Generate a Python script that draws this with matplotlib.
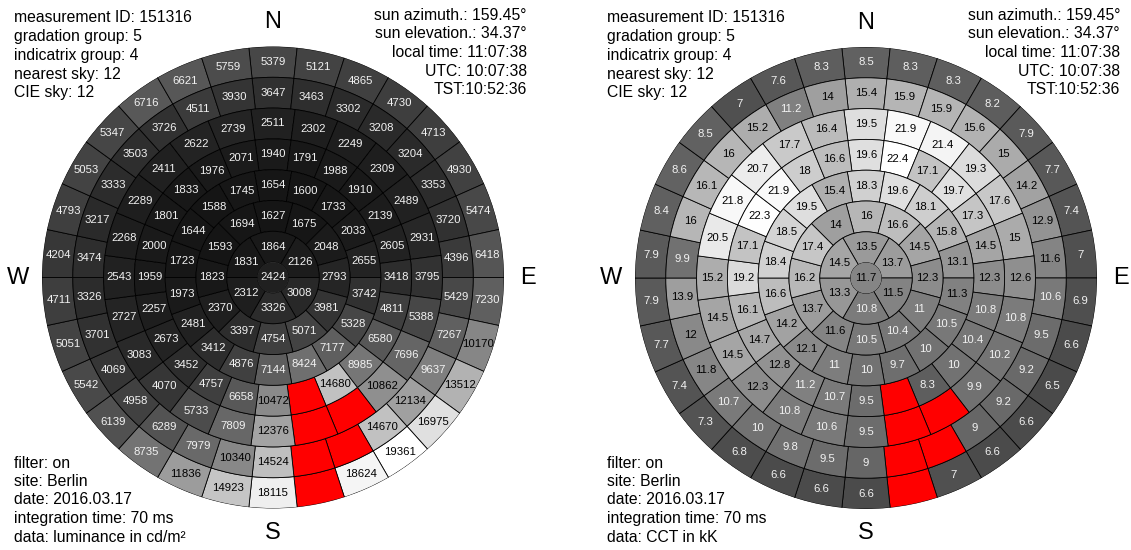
import numpy as np
import matplotlib.pyplot as plt

plt.rcParams['font.family'] = ['Liberation Sans', 'DejaVu Sans']

# Tregenza sky scan, 145 patches: bands listed from the horizon (alt 0-12) inwards,
# patch values clockwise from north. None = masked patch around the sun (drawn red)
RED = None

lum_b1 = [5379, 5121, 4865, 4730, 4713, 4930, 5474, 6418, 7230, 10170,
          13512, 16975, 19361, 18624, RED, 18115, 14923, 11836, 8735, 6139,
          5542, 5051, 4711, 4204, 4793, 5053, 5347, 6716, 6621, 5759]
lum_b2 = [3647, 3463, 3302, 3208, 3204, 3353, 3720, 4396, 5429, 7267,
          9637, 12134, 14670, RED, RED, 14524, 10340, 7979, 6289, 4958,
          4069, 3701, 3326, 3474, 3217, 3333, 3503, 3726, 4511, 3930]
lum_b3 = [2511, 2302, 2249, 2309, 2489, 2931, 3795, 5388, 7696, 10862, RED, RED,
          12376, 7809, 5733, 4070, 3083, 2727, 2543, 2268, 2289, 2411, 2622, 2739]
lum_b4 = [1940, 1791, 1988, 1910, 2139, 2605, 3418, 4811, 6580, 8985, 14680, RED,
          10472, 6658, 4757, 3452, 2673, 2257, 1959, 2000, 1801, 1833, 1976, 2071]
lum_b5 = [1654, 1600, 1733, 2033, 2655, 3742, 5328, 7177, 8424,
          7144, 4876, 3412, 2481, 1973, 1723, 1644, 1588, 1745]
lum_b6 = [1627, 1675, 2048, 2793, 3981, 5071, 4754, 3397, 2370, 1823, 1593, 1694]
lum_b7 = [1864, 2126, 3008, 3326, 2312, 1831]
lum_cap = 2424

cct_b1 = [8.5, 8.3, 8.3, 8.2, 7.9, 7.7, 7.4, 7, 6.9, 6.6,
          6.5, 6.6, 6.6, 7, RED, 6.6, 6.6, 6.6, 6.8, 7.3,
          7.4, 7.7, 7.9, 7.9, 8.4, 8.6, 8.5, 7, 7.6, 8.3]
cct_b2 = [15.4, 15.9, 15.9, 15.6, 15, 14.2, 12.9, 11.6, 10.6, 9.5,
          9.2, 9.2, 9, RED, RED, 9, 9.5, 9.8, 10, 10.7,
          11.8, 12, 13.9, 9.9, 16, 16.1, 16, 15.2, 11.2, 14]
cct_b3 = [19.5, 21.9, 21.4, 19.3, 17.6, 15, 12.6, 10.8, 10.2, 9.9, RED, RED,
          9.5, 10.6, 10.8, 12.3, 14.5, 14.5, 15.2, 20.5, 21.8, 20.7, 17.7, 16.4]
cct_b4 = [19.6, 22.4, 17.1, 19.7, 17.3, 14.5, 12.3, 10.8, 10.4, 10, 8.3, RED,
          9.5, 10.7, 11.2, 12.8, 14.7, 16.1, 19.2, 17.1, 22.3, 21.9, 18, 16.6]
cct_b5 = [18.3, 19.6, 18.1, 15.8, 13.1, 11.3, 10.5, 10, 9.7,
          10, 11, 12.1, 14.2, 16.6, 18.4, 18.5, 19.5, 15.4]
cct_b6 = [16, 16.6, 14.5, 12.3, 11, 10.4, 10.5, 11.6, 13.7, 16.2, 17.4, 14]
cct_b7 = [13.5, 13.7, 11.5, 10.8, 13.3, 14.5]
cct_cap = 11.7

info_top_left = ["measurement ID: 151316", "gradation group: 5", "indicatrix group: 4",
                 "nearest sky: 12", "CIE sky: 12"]
info_top_right = ["sun azimuth.: 159.45\u00b0", "sun elevation.: 34.37\u00b0",
                  "local time: 11:07:38", "UTC: 10:07:38", "TST:10:52:36"]
info_bottom = ["filter: on", "site: Berlin", "date: 2016.03.17", "integration time: 70 ms"]
data_label_lum = "data: luminance in cd/m\u00b2"
data_label_cct = "data: CCT in kK"

W, H = 1131, 550
fig = plt.figure(figsize=(W / 100, H / 100), dpi=100)

R = 231  # sky radius in pixels


def txt(vals):
    return "{:g}".format(vals)


def draw_sky(cx, cy, bands, cap, data_label):
    ax = fig.add_axes([(cx - R) / W, (H - cy - R) / H, 2 * R / W, 2 * R / H],
                      projection='polar')
    ax.set_theta_zero_location('N')
    ax.set_theta_direction(-1)
    vmax = max([v for b in bands for v in b if v is not None] + [cap])

    for i, vals in enumerate(bands):
        n = len(vals)
        w = 2 * np.pi / n
        theta = np.arange(n) * w
        bottom = 90 - 12 * (i + 1)
        cols = ['red' if v is None else str(v / vmax) for v in vals]
        ax.bar(theta, 12, width=w, bottom=bottom, color=cols,
               edgecolor='black', linewidth=0.6)
        for t, v in zip(theta, vals):
            if v is None:
                continue
            ax.text(t, bottom + 6, txt(v), ha='center', va='center', fontsize=8.2,
                    color='black' if v / vmax > 0.5 else '#f2f2f2')

    ax.bar(0, 6, width=2 * np.pi, bottom=0, color=str(cap / vmax), linewidth=0)
    ax.text(0, 0, txt(cap), ha='center', va='center', fontsize=8.2,
            color='black' if cap / vmax > 0.5 else '#f2f2f2')

    ax.set_ylim(0, 90)
    ax.grid(False)
    ax.set_xticks([])
    ax.set_yticks([])
    ax.spines['polar'].set_visible(False)
    ax.patch.set_alpha(0)

    for ang, lab in [(0, 'N'), (90, 'E'), (180, 'S'), (270, 'W')]:
        ax.text(np.deg2rad(ang), 99.5, lab, ha='center', va='center', fontsize=17)

    x0 = cx - 259
    x1 = cx + 254
    for k, s in enumerate(info_top_left):
        fig.text(x0 / W, 1 - (18 + 18.7 * k) / H, s, ha='left', va='center', fontsize=11.3)
    for k, s in enumerate(info_top_right):
        fig.text(x1 / W, 1 - (15 + 18.7 * k) / H, s, ha='right', va='center', fontsize=11.3)
    for k, s in enumerate(info_bottom + [data_label]):
        fig.text(x0 / W, 1 - (463 + 18.5 * k) / H, s, ha='left', va='center', fontsize=11.3)
    return ax


draw_sky(273, 277.5, [lum_b1, lum_b2, lum_b3, lum_b4, lum_b5, lum_b6, lum_b7],
         lum_cap, data_label_lum)
draw_sky(866, 278, [cct_b1, cct_b2, cct_b3, cct_b4, cct_b5, cct_b6, cct_b7],
         cct_cap, data_label_cct)

fig.savefig('out.png', dpi=100)
